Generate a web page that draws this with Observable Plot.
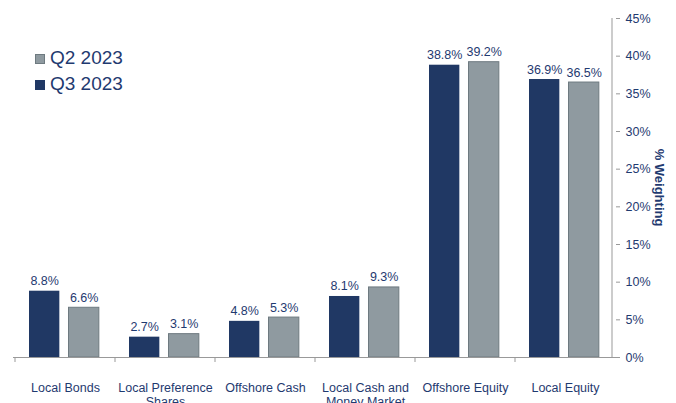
<!DOCTYPE html>
<html><head><meta charset="utf-8">
<script src="https://cdn.jsdelivr.net/npm/d3@7"></script>
<script src="https://cdn.jsdelivr.net/npm/@observablehq/plot@0.6"></script>
<style>
html,body{margin:0;padding:0;background:#fff;overflow:hidden}
#wrap{position:relative;width:676px;height:403px;font-family:"Liberation Sans",Arial,sans-serif}
#legend{position:absolute;left:35px;top:45px;color:#1F3A70;font-size:19px;line-height:26px}
#legend .sw{display:inline-block;width:10px;height:10px;margin-right:5px;vertical-align:0px;box-sizing:border-box}
</style></head>
<body><div id="wrap"><div id="legend"></div></div>
<script>
const categories = ["Local Bonds","Local Preference\nShares","Offshore Cash","Local Cash and\nMoney Market","Offshore Equity","Local Equity"];
const q3 = [8.8, 2.7, 4.8, 8.1, 38.8, 36.9];
const q2 = [6.6, 3.1, 5.3, 9.3, 39.2, 36.5];
const seriesNames = ["Q2 2023","Q3 2023"];
const yTicks = [0,5,10,15,20,25,30,35,40,45];

const navy = "#203864", gray = "#8F9AA0", grayEdge = "#6E7A80", txt = "#1F3A70";
const d3data = categories.map((c,i)=>({cat:c,q3:q3[i],q2:q2[i]}));

const W = 676, H = 403;
const mL = 13, mR = 59, mT = 18, mB = 46;
const step = (W - mL - mR) / categories.length;

const plot = Plot.plot({
  width: W, height: H,
  marginLeft: mL, marginRight: mR, marginTop: mT, marginBottom: mB,
  style: {fontFamily: '"Liberation Sans", Arial, sans-serif', fontSize: "12.5px", color: txt, background: "#fff"},
  x: {domain: categories, padding: 0, label: null},
  y: {domain: [0,45], label: null},
  marks: [
    Plot.barY(d3data, {x: "cat", y: "q3", fill: navy, insetLeft: 14, insetRight: step - 45}),
    Plot.barY(d3data, {x: "cat", y: "q2", fill: gray, stroke: grayEdge, strokeWidth: 1, insetLeft: 53.5, insetRight: step - 84.5}),
    Plot.text(d3data, {x: "cat", y: "q3", text: d => d.q3.toFixed(1) + "%", dx: 29.5 - step/2, dy: -10, fill: txt, fontSize: 12.5}),
    Plot.text(d3data, {x: "cat", y: "q2", text: d => d.q2.toFixed(1) + "%", dx: 69 - step/2, dy: -10, fill: txt, fontSize: 12.5}),
    Plot.ruleY([0], {stroke: "#999", strokeWidth: 1}),
    Plot.axisY({anchor: "right", ticks: yTicks, tickFormat: d => d + "%", tickSize: 4, tickPadding: 6, dx: -2, stroke: "#999", fill: txt, label: null, fontSize: 12.5}),
    Plot.axisX({anchor: "bottom", tickSize: 0, tickPadding: 24, fill: txt, label: null, fontSize: 12.5, lineHeight: 1.15})
  ]
});

const svg = d3.select(plot);
const xs = plot.scale("x"), ys = plot.scale("y");
const y0 = ys.apply(0), yTop = ys.apply(45);
const xRight = xs.apply(categories[categories.length-1]) + xs.bandwidth;
const g = svg.append("g").attr("stroke", "#999").attr("stroke-width", 1);
// right axis line
g.append("line").attr("x1", xRight - 3).attr("x2", xRight - 3).attr("y1", yTop).attr("y2", y0 + 0.5);
// category boundary ticks
categories.forEach(c => {
  const x = xs.apply(c);
  g.append("line").attr("x1", x).attr("x2", x).attr("y1", y0).attr("y2", y0 + 5);
});
// axis title
svg.append("text")
  .attr("transform", `translate(${W - 18},${(y0 + yTop)/2}) rotate(90)`)
  .attr("text-anchor", "middle").attr("dominant-baseline", "middle")
  .attr("fill", txt).attr("font-weight", "bold").attr("font-size", 13)
  .text("% Weighting");

document.getElementById("wrap").appendChild(plot);
const legend = document.getElementById("legend");
document.getElementById("wrap").appendChild(legend);
const legendItems = [{name: seriesNames[0], fill: gray, edge: grayEdge}, {name: seriesNames[1], fill: navy, edge: navy}];
legend.innerHTML = legendItems.map(d => `<div><span class="sw" style="background:${d.fill};border:1px solid ${d.edge}"></span>${d.name}</div>`).join("");
</script>
</body></html>
